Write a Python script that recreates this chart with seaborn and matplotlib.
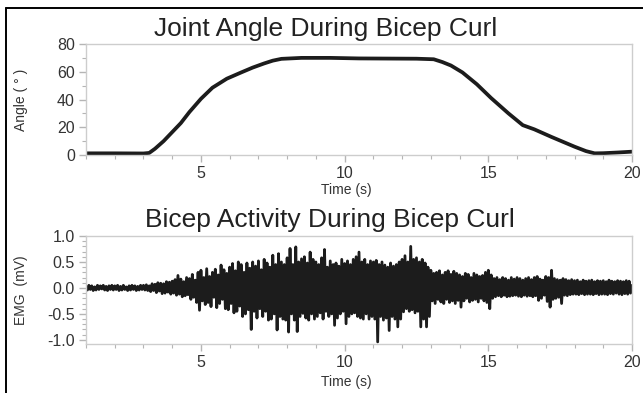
import numpy as np
import pandas as pd
import matplotlib
matplotlib.use("Agg")
import matplotlib.pyplot as plt
from matplotlib.lines import Line2D
from matplotlib.ticker import MultipleLocator
import seaborn as sns

# ---------------- data ----------------
angle_time = [1.0, 2.0, 3.0, 3.2, 3.4, 3.7, 4.0, 4.3, 4.6, 5.0, 5.4, 5.9, 6.4, 6.8, 7.2,
              7.5, 7.8, 8.5, 9.5, 10.5, 11.5, 12.5, 13.1, 13.4, 13.7, 14.1, 14.6, 15.1,
              15.7, 16.2, 16.6, 17.2, 17.6, 18.0, 18.4, 18.7, 19.0, 19.5, 20.0]
angle_deg = [1.2, 1.2, 1.1, 1.5, 4.5, 10.0, 16.5, 23.0, 31.0, 40.5, 48.5, 55.0, 59.5,
             63.0, 66.0, 68.0, 69.3, 70.0, 70.0, 69.6, 69.5, 69.4, 69.0, 67.0, 64.5,
             59.5, 51.0, 41.0, 30.0, 21.5, 18.5, 13.0, 9.5, 6.0, 2.8, 1.2, 1.3, 1.8, 2.4]

emg_time = [round(1.0 + 0.05 * i, 2) for i in range(381)]
emg_mv = [
    # 1.00-1.95
    0.03, -0.04, 0.05, -0.03, 0.04, -0.05, 0.02, -0.04, 0.05, -0.03,
    0.04, -0.02, 0.05, -0.04, 0.03, -0.05, 0.04, -0.03, 0.05, -0.04,
    # 2.00-2.95
    0.04, -0.03, 0.05, -0.05, 0.03, -0.04, 0.05, -0.03, 0.02, -0.05,
    0.04, -0.04, 0.05, -0.03, 0.04, -0.05, 0.03, -0.04, 0.05, -0.03,
    # 3.00-3.95
    0.05, -0.04, 0.06, -0.05, 0.04, -0.07, 0.08, -0.05, 0.07, -0.09,
    0.10, -0.06, 0.09, -0.11, 0.08, -0.10, 0.12, -0.08, 0.11, -0.12,
    # 4.00-4.95
    0.13, -0.10, 0.16, -0.14, 0.24, -0.12, 0.17, -0.17, 0.12, -0.15,
    0.20, -0.13, 0.18, -0.22, 0.26, -0.18, 0.15, -0.28, 0.30, -0.43,
    # 5.00-5.95
    0.34, -0.25, 0.20, -0.32, 0.37, -0.28, 0.22, -0.36, 0.30, -0.18,
    0.36, -0.38, 0.25, -0.30, 0.44, -0.22, 0.35, -0.40, 0.28, -0.42,
    # 6.00-6.95
    0.40, -0.30, 0.47, -0.48, 0.33, -0.45, 0.50, -0.35, 0.45, -0.55,
    0.30, -0.50, 0.48, -0.42, 0.38, -0.80, 0.50, -0.45, 0.42, -0.58,
    # 7.00-7.95
    0.52, -0.40, 0.35, -0.55, 0.55, -0.45, 0.48, -0.62, 0.40, -0.60,
    0.63, -0.50, 0.45, -0.81, 0.66, -0.55, 0.50, -0.60, 0.45, -0.62,
    # 8.00-8.95
    0.58, -0.85, 0.76, -0.50, 0.45, -0.62, 0.79, -0.84, 0.50, -0.55,
    0.56, -0.49, 0.60, -0.58, 0.48, -0.62, 0.69, -0.50, 0.55, -0.60,
    # 9.00-9.95
    0.50, -0.55, 0.45, -0.48, 0.58, -0.60, 0.74, -0.45, 0.40, -0.55,
    0.52, -0.50, 0.45, -0.72, 0.48, -0.58, 0.42, -0.50, 0.55, -0.45,
    # 10.00-10.95
    0.47, -0.69, 0.52, -0.55, 0.45, -0.50, 0.55, -0.48, 0.60, -0.55,
    0.69, -0.58, 0.50, -0.60, 0.55, -0.50, 0.45, -0.60, 0.52, -0.55,
    # 11.00-11.95
    0.50, -0.60, 0.53, -1.04, 0.45, -0.55, 0.50, -0.62, 0.44, -0.58,
    0.40, -0.82, 0.48, -0.55, 0.42, -0.60, 0.45, -0.75, 0.50, -0.60,
    # 12.00-12.95
    0.55, -0.46, 0.62, -0.40, 0.50, -0.45, 0.80, -0.42, 0.55, -0.48,
    0.58, -0.45, 0.50, -0.75, 0.55, -0.60, 0.48, -0.75, 0.40, -0.55,
    # 13.00-13.95
    0.34, -0.25, 0.28, -0.30, 0.30, -0.22, 0.33, -0.27, 0.25, -0.30,
    0.30, -0.22, 0.33, -0.28, 0.26, -0.25, 0.32, -0.30, 0.28, -0.24,
    # 14.00-14.95
    0.25, -0.37, 0.22, -0.25, 0.28, -0.20, 0.26, -0.27, 0.20, -0.24,
    0.28, -0.22, 0.25, -0.27, 0.22, -0.20, 0.24, -0.25, 0.30, -0.28,
    # 15.00-15.95
    0.34, -0.40, 0.25, -0.20, 0.18, -0.17, 0.20, -0.15, 0.16, -0.17,
    0.20, -0.14, 0.18, -0.17, 0.15, -0.16, 0.20, -0.15, 0.17, -0.14,
    # 16.00-16.95
    0.20, -0.16, 0.18, -0.17, 0.15, -0.14, 0.18, -0.16, 0.20, -0.15,
    0.16, -0.17, 0.20, -0.15, 0.22, -0.24, 0.17, -0.20, 0.15, -0.14,
    # 17.00-17.95
    0.22, -0.26, 0.20, -0.37, 0.34, -0.22, 0.18, -0.20, 0.16, -0.18,
    0.15, -0.30, 0.18, -0.14, 0.16, -0.15, 0.14, -0.13, 0.16, -0.12,
    # 18.00-18.95
    0.14, -0.12, 0.15, -0.13, 0.12, -0.11, 0.15, -0.13, 0.13, -0.12,
    0.14, -0.12, 0.15, -0.13, 0.12, -0.11, 0.14, -0.13, 0.13, -0.12,
    # 19.00-19.95
    0.14, -0.12, 0.12, -0.13, 0.15, -0.11, 0.13, -0.12, 0.12, -0.10,
    0.14, -0.12, 0.13, -0.13, 0.12, -0.11, 0.14, -0.12, 0.13, -0.10,
    # 20.00
    0.05,
]

title_top = "Joint Angle During Bicep Curl"
title_bottom = "Bicep Activity During Bicep Curl"
xlabel = "Time (s)"
ylabel_top = "Angle ( ° )"
ylabel_bottom = "EMG  (mV)"

# ---------------- style ----------------
sns.set_style("white")
plt.rcParams["font.family"] = ["Liberation Sans", "DejaVu Sans"]

W, H = 643, 393
fig = plt.figure(figsize=(W / 100, H / 100), dpi=100)

spine_col = "#cdcdcd"
tick_col = "#b5b5b5"
lab_col = "#333333"
line_col = "#1c1c1c"

def px_axes(l, t, r, b):
    return [l / W, 1 - b / H, (r - l) / W, (b - t) / H]

ax1 = fig.add_axes(px_axes(86, 44, 632, 155))
ax2 = fig.add_axes(px_axes(86, 236, 632, 344))

df_angle = pd.DataFrame({"t": angle_time, "angle": angle_deg})
df_emg = pd.DataFrame({"t": emg_time, "emg": emg_mv})

sns.lineplot(data=df_angle, x="t", y="angle", ax=ax1, color=line_col,
             linewidth=2.7, estimator=None)
sns.lineplot(data=df_emg, x="t", y="emg", ax=ax2, color=line_col,
             linewidth=2.0, estimator=None)

ax1.set_xlim(1, 20)
ax1.set_ylim(0, 80)
ax2.set_xlim(1, 20)
ax2.set_ylim(-1.08, 1.0)

for ax in (ax1, ax2):
    for s in ax.spines.values():
        s.set_color(spine_col)
        s.set_linewidth(1.0)
        s.set_visible(True)
    ax.xaxis.set_major_locator(MultipleLocator(5))
    ax.xaxis.set_minor_locator(MultipleLocator(1))
    ax.tick_params(axis="both", which="major", length=5, width=1, color=tick_col,
                   labelcolor=lab_col, labelsize=11.5, pad=3, direction="out",
                   bottom=True, left=True)
    ax.tick_params(axis="both", which="minor", length=3, width=0.8, color=tick_col,
                   bottom=True, left=True)
    ax.set_xlabel("")
    ax.set_ylabel("")

ax1.yaxis.set_major_locator(MultipleLocator(20))
ax1.yaxis.set_minor_locator(MultipleLocator(10))
ax2.yaxis.set_minor_locator(MultipleLocator(0.1))
ax2.set_yticks([-1.0, -0.5, 0.0, 0.5, 1.0])
ax2.set_yticklabels(["-1.0", "-0.5", "0.0", "0.5", "1.0"])
ax1.set_xticks([5, 10, 15, 20])
ax2.set_xticks([5, 10, 15, 20])

# titles and labels
fig.text(326 / W, 1 - 36 / H, title_top, ha="center", va="baseline",
         fontsize=19, color="#222222")
fig.text(330 / W, 1 - 227 / H, title_bottom, ha="center", va="baseline",
         fontsize=19, color="#222222")
fig.text(346 / W, 1 - 190 / H, xlabel, ha="center", va="center",
         fontsize=10, color=lab_col)
fig.text(346 / W, 1 - 382 / H, xlabel, ha="center", va="center",
         fontsize=10, color=lab_col)
fig.text(21 / W, 1 - 100 / H, ylabel_top, ha="center", va="center",
         rotation=90, fontsize=10, color=lab_col)
fig.text(21 / W, 1 - 290 / H, ylabel_bottom, ha="center", va="center",
         rotation=90, fontsize=10, color=lab_col)

# outer frame (left and top edges visible)
fig.add_artist(Line2D([5.5 / W, 5.5 / W], [0, 1 - 7.5 / H], transform=fig.transFigure,
                      color="black", linewidth=1.4))
fig.add_artist(Line2D([5.5 / W, 1], [1 - 7.5 / H, 1 - 7.5 / H], transform=fig.transFigure,
                      color="black", linewidth=1.4))

fig.savefig("out.png", dpi=100)
